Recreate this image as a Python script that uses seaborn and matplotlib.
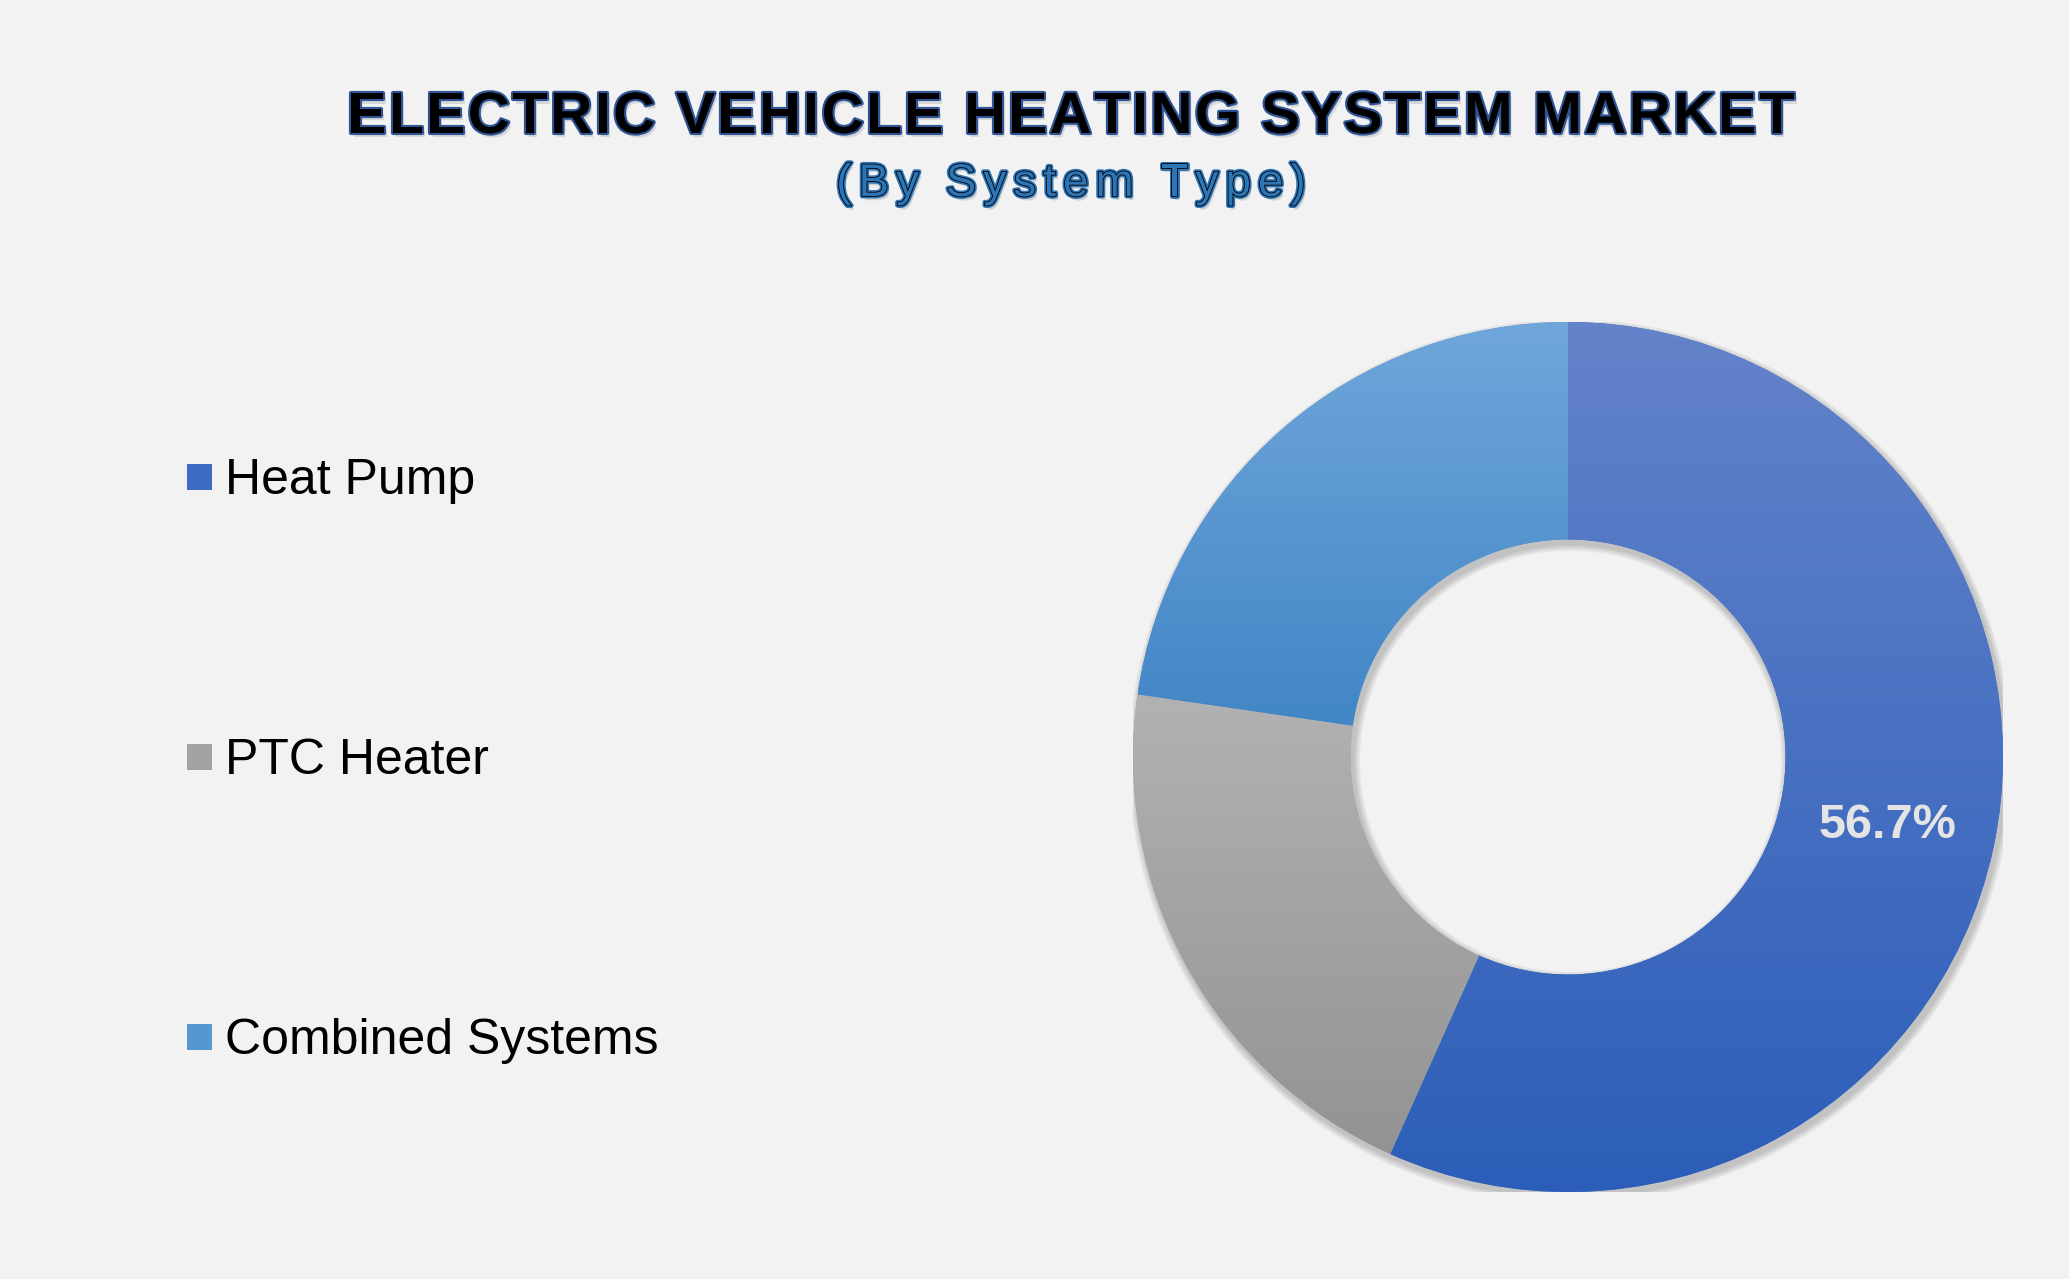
import numpy as np
import matplotlib
matplotlib.use("Agg")
import matplotlib.pyplot as plt
import matplotlib.patheffects as pe
from matplotlib.patches import Rectangle, Wedge
from matplotlib.font_manager import FontProperties, findfont, get_font
import seaborn as sns

# data
categories = ["Heat Pump", "PTC Heater", "Combined Systems"]
shares = [56.7, 20.6, 22.7]
top_colors = ["#6383CA", "#B2B2B2", "#70A6DB"]
bottom_colors = ["#2C5EB9", "#939393", "#4186C6"]
legend_colors = ["#3F6CC3", "#A2A2A2", "#5697D2"]
title = "ELECTRIC VEHICLE HEATING SYSTEM MARKET"
subtitle = "(By System Type)"

W, H = 2069, 1279
DPI = 100
BG = "#F2F2F2"

sns.set_theme(style="white", rc={"figure.facecolor": BG, "axes.facecolor": BG})
plt.rcParams["font.family"] = ["Liberation Sans", "DejaVu Sans"]


def px(x, y):
    # pixel position (top-left origin) -> figure fraction
    return x / W, 1 - y / H


def spaced_text(fig, xc, yb, s, tracking, size, weight, **kw):
    # draw a string centred at xc with extra letter spacing (pixels)
    prop = FontProperties(family="Liberation Sans", size=size, weight=weight)
    font = get_font(findfont(prop))
    font.set_size(size, DPI)
    adv = [font.load_char(ord(c)).linearHoriAdvance / 65536 for c in s]
    total = sum(adv) + tracking * (len(s) - 1)
    x = xc - total / 2
    for c, a in zip(s, adv):
        if c != " ":
            fig.text(*px(x, yb), c, ha="left", va="baseline", fontproperties=prop, **kw)
        x += a + tracking


fig = plt.figure(figsize=(W / DPI, H / DPI), dpi=DPI)

# titles
spaced_text(fig, 1071, 133, title, 2.3, 42, "bold", color="black",
            path_effects=[pe.SimplePatchShadow(offset=(2, -3), shadow_rgbFace="#999999", alpha=0.3),
                          pe.Stroke(linewidth=3, foreground="#2F5597"), pe.Normal()])
spaced_text(fig, 1071, 196, subtitle, 7.0, 33, "normal", color="#2E75B6",
            path_effects=[pe.SimplePatchShadow(offset=(2, -3), shadow_rgbFace="#999999", alpha=0.35),
                          pe.Stroke(linewidth=3.6, foreground="#2E75B6"),
                          pe.Stroke(linewidth=1.2, foreground="black"), pe.Normal()])

# donut
cx, cy, R = 1568, 757, 435
ax = fig.add_axes([(cx - R) / W, (H - cy - R) / H, 2 * R / W, 2 * R / H])
ax.set_facecolor("none")

# soft shadow behind the ring
for k in range(4):
    grow = 0.004 * (k + 1)
    ax.add_patch(Wedge((0.006, -0.010), 1.0 + grow, 0, 360, width=0.5 + 2 * grow,
                       facecolor="black", edgecolor="none", alpha=0.05, zorder=0))

wedges, _ = ax.pie(shares, startangle=90, counterclock=False, radius=1,
                   colors=legend_colors, wedgeprops=dict(width=0.5, linewidth=0))

grad = np.linspace(0, 1, 256)[:, None]
for w, c_top, c_bot in zip(wedges, top_colors, bottom_colors):
    bb = w.get_path().get_extents()
    cmap = sns.blend_palette([c_top, c_bot], as_cmap=True)
    im = ax.imshow(grad, extent=[bb.x0, bb.x1, bb.y0, bb.y1], origin="upper",
                   cmap=cmap, aspect="auto", zorder=2, interpolation="bilinear")
    im.set_clip_path(w)

# percentage label on the largest slice
w0 = wedges[0]
mid = np.deg2rad((w0.theta1 + w0.theta2) / 2)
ax.text(0.75 * np.cos(mid), 0.75 * np.sin(mid), f"{shares[0]}%",
        ha="center", va="center", fontsize=35, fontweight="bold", color="#E4E4E4", zorder=5)

ax.set_xlim(-1, 1)
ax.set_ylim(-1, 1)
ax.set_aspect("equal")
ax.axis("off")

# legend
for i, (name, col) in enumerate(zip(categories, legend_colors)):
    ly = 477 + i * 280
    x0, y0 = px(187, ly + 13)
    fig.patches.append(Rectangle((x0, y0), 25 / W, 26 / H, transform=fig.transFigure,
                                 facecolor=col, edgecolor="none"))
    fig.text(*px(225, ly + 17), name, ha="left", va="baseline", fontsize=36, color="black")

fig.savefig("out.png", dpi=DPI, facecolor=BG)
